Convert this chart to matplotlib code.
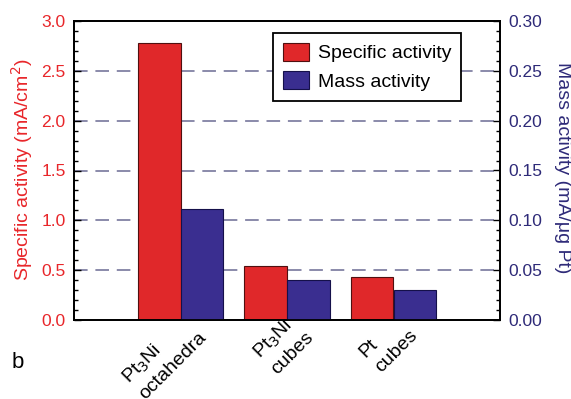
import numpy as np
from matplotlib import pyplot as plt
from matplotlib.patches import Patch
from matplotlib.ticker import MultipleLocator

plt.rcParams['font.family'] = ['Liberation Sans', 'DejaVu Sans']

categories = ['Pt$_3$Ni\noctahedra', 'Pt$_3$Ni\ncubes', 'Pt\ncubes']
specific_activity = [2.78, 0.54, 0.43]   # mA/cm2
mass_activity = [0.111, 0.040, 0.030]    # mA/ug Pt

red = '#e0282a'
blue = '#3a2e90'
red_txt = '#e8262a'
blue_txt = '#2e2a78'

W, H = 571, 399
fig = plt.figure(figsize=(W / 100, H / 100), dpi=100)
ax = fig.add_axes([74 / W, 1 - 320 / H, (500 - 74) / W, (320 - 21) / H])
ax2 = ax.twinx()

x = np.arange(len(categories))
bw = 0.4

# grid behind everything
for g in np.arange(0.5, 3.0, 0.5):
    ax.axhline(g, color='#8a8aaa', lw=1.4, dashes=(7, 4), zorder=0)

ax.bar(x - bw / 2, specific_activity, bw, color=red, edgecolor='#501010', lw=0.8, zorder=2)
ax2.bar(x + bw / 2, mass_activity, bw, color=blue, edgecolor='#15104a', lw=0.8, zorder=2)

ax.set_xlim(-1, 3)
ax.set_ylim(0, 3.0)
ax2.set_ylim(0, 0.30)

ax.yaxis.set_major_locator(MultipleLocator(0.5))
ax.yaxis.set_minor_locator(MultipleLocator(0.1))
ax2.yaxis.set_major_locator(MultipleLocator(0.05))
ax2.yaxis.set_minor_locator(MultipleLocator(0.01))
ax.set_yticklabels([f'{v:.1f}' for v in ax.get_yticks()])
ax2.set_yticklabels([f'{v:.2f}' for v in ax2.get_yticks()])

ax.tick_params(axis='y', which='major', direction='in', length=5, width=1,
               labelsize=12.5, labelcolor=red_txt, pad=6)
ax.tick_params(axis='y', which='minor', direction='in', length=3, width=1)
ax2.tick_params(axis='y', which='major', direction='in', length=5, width=1,
                labelsize=12.5, labelcolor=blue_txt, pad=6)
ax2.tick_params(axis='y', which='minor', direction='in', length=3, width=1)

ax.set_xticks(x)
ax.set_xticklabels(categories, rotation=45, ha='right', va='top',
                   rotation_mode='anchor', fontsize=14, multialignment='left',
                   linespacing=1.35)
ax.tick_params(axis='x', length=0, pad=-6)

for a in (ax, ax2):
    for s in a.spines.values():
        s.set_linewidth(1.3)

fig.text(22 / W, 1 - 170 / H, 'Specific activity (mA/cm$^2$)', color=red_txt,
         fontsize=14, rotation=90, ha='center', va='center')
fig.text(562 / W, 1 - 168 / H, 'Mass activity (mA/\u03bcg Pt)', color=blue_txt,
         fontsize=14, rotation=-90, ha='center', va='center')
fig.text(12 / W, 1 - 368 / H, 'b', fontsize=16, ha='left', va='baseline')

handles = [Patch(facecolor=red, edgecolor='#501010', lw=0.8),
           Patch(facecolor=blue, edgecolor='#15104a', lw=0.8)]
leg = ax2.legend(handles, ['Specific activity', 'Mass activity'],
                 loc='upper left', bbox_to_anchor=(273 / W, 1 - 33 / H),
                 bbox_transform=fig.transFigure, fontsize=14, fancybox=False,
                 edgecolor='black', framealpha=1, borderaxespad=0,
                 handlelength=1.35, handleheight=1.05, handletextpad=0.45,
                 labelspacing=0.45, borderpad=0.5)
leg.get_frame().set_linewidth(1.3)

fig.savefig('out.png', dpi=100)
